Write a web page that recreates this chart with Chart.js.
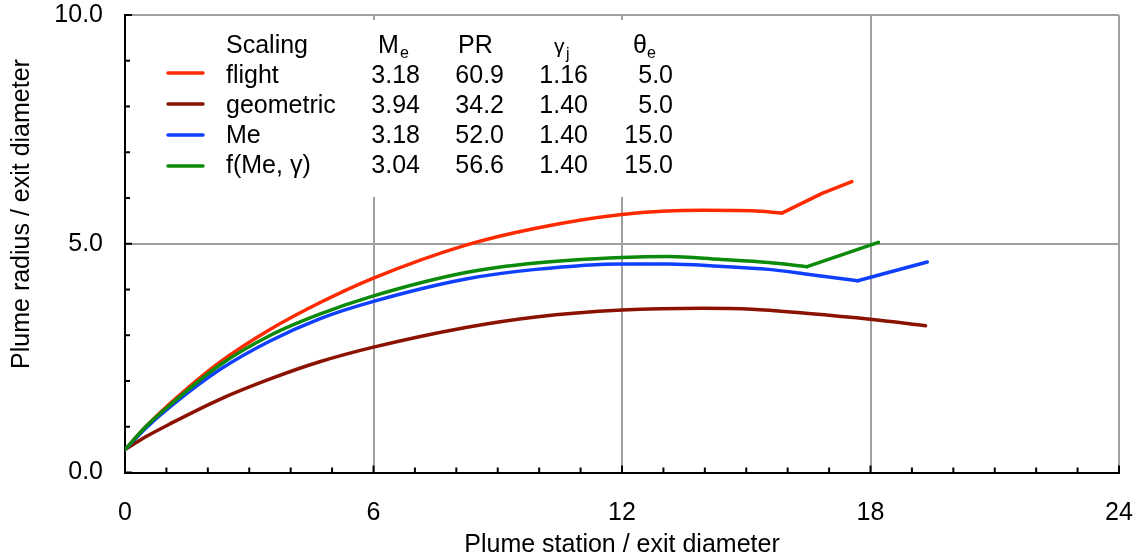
<!DOCTYPE html>
<html>
<head>
<meta charset="utf-8">
<script src="https://cdn.jsdelivr.net/npm/chart.js@4.4.1/dist/chart.umd.min.js"></script>
<style>
  body { margin: 0; background: #fff; }
  #wrap { width: 1139px; height: 560px; }
</style>
</head>
<body>
<div id="wrap"><canvas id="plume"></canvas></div>
<script>
// plume radius vs station
const xFlight = [0, 0.5, 1.08, 2.29, 3.49, 4.7, 6, 8.23, 9.92, 12, 13.94, 15.14, 15.86];
const yFlight = [0.5, 1.0, 1.50, 2.41, 3.12, 3.71, 4.25, 4.97, 5.34, 5.64, 5.73, 5.72, 5.67];
const xFlightTail = [15.86, 16.83, 17.55];
const yFlightTail = [5.67, 6.10, 6.36];

const xGeo = [0, 0.5, 1.08, 2.29, 3.49, 4.7, 6, 8.23, 9.92, 12, 13.94, 15.14, 16.43, 17.99, 19.33];
const yGeo = [0.5, 0.78, 1.06, 1.60, 2.04, 2.42, 2.74, 3.17, 3.40, 3.55, 3.59, 3.57, 3.48, 3.35, 3.21];

const xMe = [0, 0.5, 1.08, 2.29, 3.49, 4.7, 6, 8.23, 9.92, 12, 13.13, 14.34, 15.54, 16.43, 17.69];
const yMe = [0.5, 0.97, 1.43, 2.25, 2.87, 3.36, 3.74, 4.23, 4.44, 4.56, 4.56, 4.51, 4.44, 4.34, 4.19];
const xMeTail = [17.69, 19.37];
const yMeTail = [4.19, 4.60];

const xFit = [0, 0.5, 1.08, 2.29, 3.49, 4.7, 6, 8.23, 9.92, 12, 13.13, 14.34, 15.54, 16.47];
const yFit = [0.5, 1.0, 1.47, 2.35, 2.99, 3.46, 3.86, 4.37, 4.58, 4.70, 4.72, 4.66, 4.59, 4.50];
const xFitTail = [16.47, 18.19];
const yFitTail = [4.50, 5.03];

// legend table
const scalingNames = ["flight", "geometric", "Me", "f(Me, \u03b3)"];
const colMe = ["3.18", "3.94", "3.18", "3.04"];
const colPR = ["60.9", "34.2", "52.0", "56.6"];
const colGamma = ["1.16", "1.40", "1.40", "1.40"];
const colTheta = ["5.0", "5.0", "15.0", "15.0"];
const lineColors = ["#ff2a00", "#8b1200", "#1040ff", "#0b8a0b"];

const FONT = '"Liberation Sans", Arial, sans-serif';
const FS = 25;

function pts(xs, ys) {
    return xs.map((x, i) => ({ x: x, y: ys[i] }));
}

function line(xs, ys, color, smooth) {
    return {
        data: pts(xs, ys),
        borderColor: color,
        borderWidth: 3.5,
        pointRadius: 0,
        fill: false,
        tension: smooth ? 0.4 : 0,
        cubicInterpolationMode: smooth ? "monotone" : "default",
        borderCapStyle: "round",
        borderJoinStyle: "round"
    };
}

const overlay = {
    id: "overlay",
    beforeDatasetsDraw(chart) {
        const ctx = chart.ctx;
        ctx.save();
        ctx.fillStyle = "#fff";
        ctx.fillRect(150, 20, 550, 177);
        ctx.restore();
    },
    afterDraw(chart) {
        const ctx = chart.ctx;
        const xs = chart.scales.x, ys = chart.scales.y;
        const area = chart.chartArea;
        ctx.save();
        // inward ticks
        ctx.strokeStyle = "#000";
        ctx.lineWidth = 2;
        ctx.beginPath();
        for (let v = 0; v <= 24; v++) {
            const px = xs.getPixelForValue(v);
            const len = v % 6 === 0 ? 7 : 5;
            ctx.moveTo(px, area.bottom);
            ctx.lineTo(px, area.bottom - len);
        }
        for (let v = 0; v <= 10; v++) {
            const py = ys.getPixelForValue(v);
            const len = v % 5 === 0 ? 7 : 5;
            ctx.moveTo(area.left, py);
            ctx.lineTo(area.left + len, py);
        }
        ctx.stroke();

        // y title
        ctx.fillStyle = "#000";
        ctx.font = FS + "px " + FONT;
        ctx.textAlign = "center";
        ctx.textBaseline = "middle";
        ctx.translate(22, 214);
        ctx.rotate(-Math.PI / 2);
        ctx.fillText("Plume radius / exit diameter", 0, 0);
        ctx.setTransform(1, 0, 0, 1, 0, 0);

        // legend header
        ctx.textBaseline = "alphabetic";
        ctx.textAlign = "left";
        ctx.font = FS + "px " + FONT;
        ctx.fillText("Scaling", 226, 53);
        ctx.fillText("M", 378, 53);
        ctx.fillText("PR", 458, 53);
        ctx.fillText("\u03b8", 633, 53);
        ctx.font = "21px " + FONT;
        ctx.fillText("\u03b3", 554, 53);
        ctx.font = "16px " + FONT;
        ctx.fillText("e", 400, 58);
        ctx.fillText("j", 566, 59);
        ctx.fillText("e", 647, 58);

        // legend rows
        const lineY = [73, 104, 135, 166];
        const baseY = [83, 113, 143, 173];
        for (let i = 0; i < scalingNames.length; i++) {
            ctx.strokeStyle = lineColors[i];
            ctx.lineWidth = 3.5;
            ctx.lineCap = "round";
            ctx.beginPath();
            ctx.moveTo(168, lineY[i]);
            ctx.lineTo(203, lineY[i]);
            ctx.stroke();
            ctx.font = FS + "px " + FONT;
            ctx.textAlign = "left";
            ctx.fillText(scalingNames[i], 226, baseY[i]);
            ctx.textAlign = "right";
            ctx.fillText(colMe[i], 420, baseY[i]);
            ctx.fillText(colPR[i], 504, baseY[i]);
            ctx.fillText(colGamma[i], 588, baseY[i]);
            ctx.fillText(colTheta[i], 673, baseY[i]);
        }
        ctx.restore();
    }
};

new Chart(document.getElementById("plume"), {
    type: "line",
    data: {
        datasets: [
            line(xFit, yFit, lineColors[3], true),
            line(xFitTail, yFitTail, lineColors[3], false),
            line(xMe, yMe, lineColors[2], true),
            line(xMeTail, yMeTail, lineColors[2], false),
            line(xFlight, yFlight, lineColors[0], true),
            line(xFlightTail, yFlightTail, lineColors[0], false),
            line(xGeo, yGeo, lineColors[1], true)
        ]
    },
    options: {
        responsive: true,
        maintainAspectRatio: false,
        animation: false,
        layout: { padding: { left: 0, top: 15, right: 20, bottom: 0 } },
        plugins: {
            legend: { display: false },
            tooltip: { enabled: false }
        },
        scales: {
            x: {
                type: "linear",
                min: 0,
                max: 24,
                afterFit(scale) {
                    scale.height = 87.5;
                    scale.paddingLeft = 0;
                    scale.paddingRight = 0;
                },
                ticks: {
                    stepSize: 6,
                    padding: 26,
                    color: "#000",
                    font: { family: FONT, size: FS }
                },
                grid: {
                    drawTicks: false,
                    lineWidth: 2,
                    color: ctx => ctx.tick && ctx.tick.value === 0 ? "rgba(0,0,0,0)" : "#a0a0a0"
                },
                border: { color: "#000", width: 2 },
                title: {
                    display: true,
                    text: "Plume station / exit diameter",
                    color: "#000",
                    font: { family: FONT, size: FS },
                    padding: { top: 0, bottom: 0 }
                }
            },
            y: {
                type: "linear",
                min: 0,
                max: 10,
                afterFit(scale) {
                    scale.width = 125;
                    scale.paddingTop = 0;
                    scale.paddingBottom = 0;
                },
                ticks: {
                    stepSize: 5,
                    padding: 22,
                    color: "#000",
                    font: { family: FONT, size: FS },
                    callback: v => v.toFixed(1)
                },
                grid: {
                    drawTicks: false,
                    lineWidth: 2,
                    color: ctx => ctx.tick && ctx.tick.value === 0 ? "rgba(0,0,0,0)" : "#a0a0a0"
                },
                border: { color: "#000", width: 2 }
            }
        }
    },
    plugins: [overlay]
});
</script>
</body>
</html>
